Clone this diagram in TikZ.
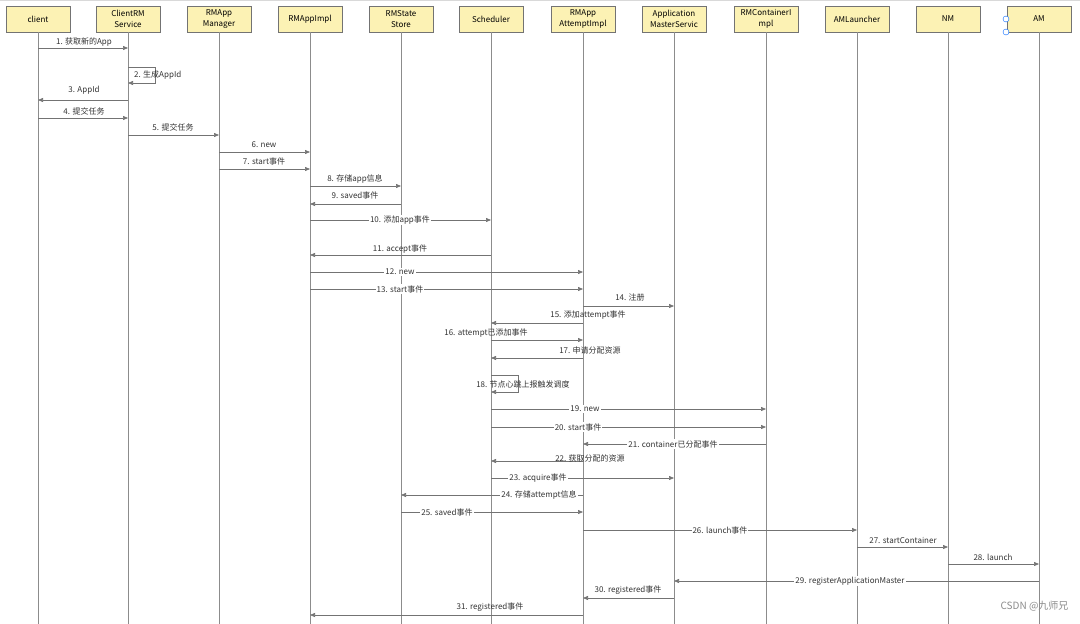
\documentclass[tikz,border=0pt]{standalone}
\usepackage{fontspec}
\setmainfont{Noto Sans CJK SC}
\usetikzlibrary{arrows.meta}
\definecolor{headfill}{HTML}{FCF2B4}
\begin{document}
\begin{tikzpicture}[x=1pt,y=-1pt,font=\fontsize{8}{9.5}\selectfont,
  head/.style={draw=black!55,fill=headfill,minimum width=64pt,minimum height=26pt,align=center,inner sep=1pt,font=\fontsize{8}{11}\selectfont},
  life/.style={draw=black!45,line width=0.8pt},
  msg/.style={draw=black!55,line width=0.6pt,-{Triangle[length=5pt,width=4pt]}},
  lab/.style={inner sep=1pt,text=black!80},
  ilab/.style={inner sep=1pt,fill=white,text=black!80}]
\useasboundingbox (0,0) rectangle (1080,624);
\fill[white] (0,0) rectangle (1080,624);
\draw[black!15] (0,0.5) -- (1080,0.5);
\foreach \n/\x/\t in {cl/38/client, crm/128/{ClientRM\\Service}, mgr/219/{RMApp\\Manager}, impl/310/RMAppImpl, store/401/{RMState\\Store}, sch/491/Scheduler, att/583/{RMApp\\AttemptImpl}, ams/674/{Application\\MasterServic}, rmc/766/{RMContainerI\\mpl}, aml/857/AMLauncher, nm/948/NM, am/1039/AM}{
  \node[head] (\n) at (\x,19) {\t};
  \coordinate (\n-end) at (\x,624);
  \draw[life] (\n.south) -- (\n-end);
}
\draw[blue!60!cyan,fill=white] (1006,19) circle (3);
\draw[blue!60!cyan,fill=white] (1006,32) circle (3);
\newcommand\mm[6]{% from, to, y, label, labelx, labely
  \coordinate (s) at (#1.south |- 0,#3);
  \coordinate (e) at (#2.south |- 0,#3);
  \draw[msg] (s) -- (e);
  \node[lab] at (#5,#6) {#4};}
\newcommand\mi[5]{% inline label
  \coordinate (s) at (#1.south |- 0,#3);
  \coordinate (e) at (#2.south |- 0,#3);
  \draw[msg] (s) -- (e);
  \node[ilab] at (#5,#3) {#4};}
\mm{cl}{crm}{48}{1. 获取新的App}{84}{42}
\draw[msg] (crm.south |- 0,67) -- (155,67) -- (155,83) -- (crm.south |- 0,83);
\node[lab,anchor=west] at (133,75) {2. 生成AppId};
\mm{crm}{cl}{100}{3. AppId}{84}{90}
\mm{cl}{crm}{118}{4. 提交任务}{84}{111}
\mm{crm}{mgr}{135}{5. 提交任务}{173}{127}
\mm{mgr}{impl}{152}{6. new}{264}{145}
\mm{mgr}{impl}{169}{7. start事件}{264}{161}
\mm{impl}{store}{186}{8. 存储app信息}{355}{179}
\mm{store}{impl}{204}{9. saved事件}{355}{195}
\mi{impl}{sch}{220}{10. 添加app事件}{400}
\mm{sch}{impl}{255}{11. accept事件}{400}{249}
\mi{impl}{att}{272}{12. new}{400}
\mi{impl}{att}{289}{13. start事件}{400}
\mm{att}{ams}{306}{14. 注册}{630}{297}
\mm{att}{sch}{323}{15. 添加attempt事件}{588}{315}
\mm{sch}{att}{340}{16. attempt已添加事件}{486}{333}
\mm{att}{sch}{358}{17. 申请分配资源}{590}{350}
\draw[msg] (sch.south |- 0,375) -- (518,375) -- (518,392) -- (sch.south |- 0,392);
\node[lab] at (523,384) {18. 节点心跳上报触发调度};
\mi{sch}{rmc}{409}{19. new}{585}
\mi{sch}{rmc}{427}{20. start事件}{578}
\mi{rmc}{att}{444}{21. container已分配事件}{673}
\mm{att}{sch}{461}{22. 获取分配的资源}{590}{458}
\mi{sch}{ams}{478}{23. acquire事件}{538}
\mi{att}{store}{495}{24. 存储attempt信息}{539}
\mi{store}{att}{512}{25. saved事件}{447}
\mi{att}{aml}{530}{26. launch事件}{720}
\mm{aml}{nm}{547}{27. startContainer}{903}{540}
\mm{nm}{am}{564}{28. launch}{993}{557}
\mi{am}{ams}{581}{29. registerApplicationMaster}{850}
\mm{ams}{att}{598}{30. registered事件}{628}{590}
\mm{att}{impl}{615}{31. registered事件}{490}{607}
\node[text=black!45,font=\fontsize{10}{12}\selectfont,anchor=east] at (1072,606) {CSDN @九师兄};
\end{tikzpicture}
\end{document}
